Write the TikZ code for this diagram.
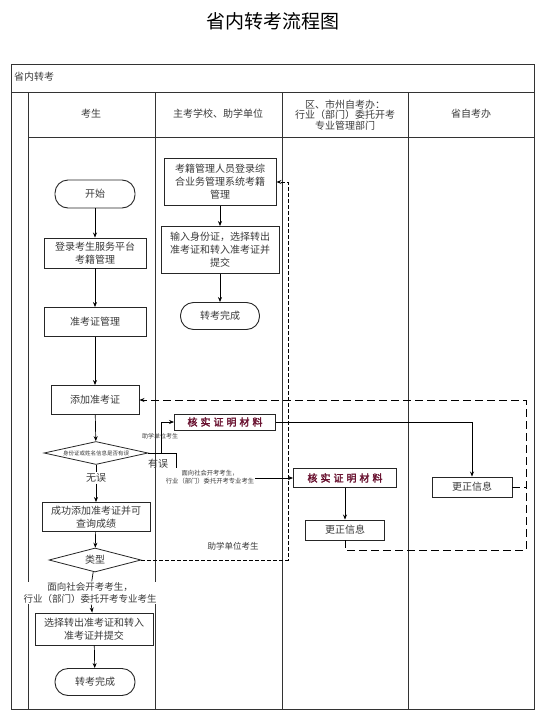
\documentclass[tikz,border=0pt]{standalone}
\usepackage{fontspec}
\setmainfont{Noto Sans CJK SC}
\newfontfamily\checkfont[LetterSpace=30,FakeBold=2.5]{Noto Sans CJK SC}
\usetikzlibrary{arrows.meta,shapes.geometric}
\definecolor{ink}{HTML}{3A3A3A}
\definecolor{plum}{HTML}{6A1331}
\tikzset{
  box/.style={draw=black!85,line width=0.9pt,fill=white,text=ink,align=center,inner sep=1pt,font=\fontsize{10}{13}\selectfont},
  term/.style={box,rounded corners=13pt},
  decide/.style={diamond,draw=black!85,line width=0.8pt,fill=white,text=ink,inner sep=0pt},
  checkbox/.style={box,text=plum,font=\checkfont\fontsize{10}{11}\selectfont},
  note/.style={text=ink,inner sep=1pt,align=center},
  flow/.style={->,line width=0.7pt},
  backflow/.style={->,line width=1pt,dash pattern=on 8pt off 4pt},
  lane/.style={line width=0.8pt,draw=black!80}
}
\begin{document}
\begin{tikzpicture}[x=1pt,y=-1pt,>={Stealth[length=5pt,width=4pt]}]
\useasboundingbox (0,0) rectangle (546,720);
% title
\node (title) at (273,21) {\fontsize{19}{19}\selectfont 省内转考流程图};
% swimlane frame
\draw[lane] (11,64) rectangle (534,709);
\draw[lane] (11,92) -- (534,92);
\draw[lane] (28,137) -- (534,137);
\foreach \x in {28,155,282,408} \draw[lane] (\x,92) -- (\x,709);
% lane headings
\node[note,anchor=west,font=\fontsize{10}{12}\selectfont] (pool) at (13,77) {省内转考};
\node[note,font=\fontsize{10}{12}\selectfont] (h1) at (91,114) {考生};
\node[note,font=\fontsize{10}{12}\selectfont] (h2) at (218,114) {主考学校、助学单位};
\node[note,font=\fontsize{10}{10.5}\selectfont] (h3) at (345,115) {区、市州自考办：\\行业（部门）委托开考\\专业管理部门};
\node[note,font=\fontsize{10}{12}\selectfont] (h4) at (471,114) {省自考办};

% candidate lane
\node[term,minimum width=80pt,minimum height=28pt] (start) at (95,194) {开始};
\node[box,minimum width=102pt,minimum height=30pt] (login) at (95,253) {登录考生服务平台\\考籍管理};
\node[box,minimum width=102pt,minimum height=29pt] (card) at (95,322) {准考证管理};
\node[box,minimum width=88pt,minimum height=29pt] (addcard) at (95,400) {添加准考证};
\node[decide,shape aspect=4.5,minimum width=104pt,minimum height=23pt,font=\fontsize{5.5}{6}\selectfont] (verify) at (96,453) {身份证或姓名信息是否有误};
\node[note,fill=white,font=\fontsize{10}{12}\selectfont] (noerr) at (96,478) {无误};
\node[box,minimum width=108pt,minimum height=29pt] (added) at (96,517) {成功添加准考证并可\\查询成绩};
\node[decide,shape aspect=4,minimum width=92pt,minimum height=24pt,font=\fontsize{10}{12}\selectfont] (kind) at (95,560) {类型};
\node[note,fill=white,font=\fontsize{9.5}{12}\selectfont] (social) at (90,593) {面向社会开考考生，\\行业（部门）委托开考专业考生};
\node[box,minimum width=118pt,minimum height=32pt] (choose) at (94,629) {选择转出准考证和转入\\准考证并提交};
\node[term,minimum width=80pt,minimum height=27pt] (finish) at (95,682) {转考完成};

% school lane
\node[box,minimum width=112pt,minimum height=47pt] (sysin) at (220,182) {考籍管理人员登录综\\合业务管理系统考籍\\管理};
\node[box,minimum width=118pt,minimum height=47pt] (idin) at (220,250) {输入身份证，选择转出\\准考证和转入准考证并\\提交};
\node[term,minimum width=79pt,minimum height=27pt] (finish2) at (220,316) {转考完成};
\node[checkbox,minimum width=101pt,minimum height=16pt] (check1) at (225,422) {核实证明材料};
\node[note,font=\fontsize{6}{7}\selectfont] (schoolnote) at (160,436) {助学单位考生};
\node[note,font=\fontsize{10}{12}\selectfont] (haserr) at (158,464) {有误};
\node[note,font=\fontsize{6.3}{7.5}\selectfont] (socialnote) at (210,477) {面向社会开考考生，\\行业（部门）委托开考专业考生};
\node[note,font=\fontsize{8.5}{10}\selectfont] (schoolnote2) at (233,546) {助学单位考生};

% city lane and province lane
\node[checkbox,minimum width=103pt,minimum height=19pt] (check2) at (345,478) {核实证明材料};
\node[box,minimum width=79pt,minimum height=20pt] (fix3) at (345,530) {更正信息};
\node[box,minimum width=80pt,minimum height=20pt] (fix4) at (472,487) {更正信息};

% main flow
\draw[flow] (start) -- (login);
\draw[flow] (login) -- (card);
\draw[flow] (card) -- (addcard);
\draw[flow] (addcard) -- (verify);
\draw[line width=0.7pt] (verify) -- (noerr);
\draw[flow] (noerr) -- (added);
\draw[flow] (added) -- (kind);
\draw[line width=0.7pt] (kind) -- (social);
\draw[flow] (social) -- (choose);
\draw[flow] (choose) -- (finish);
\draw[flow] (sysin) -- (idin);
\draw[flow] (idin) -- (finish2);
% error branches
\coordinate (fork) at (161,453);
\coordinate (drop) at (176,468);
\draw[flow] (verify.east) -- (fork) |- (check1);
\draw[line width=0.7pt] (verify.east) -| (drop);
\draw[flow] (socialnote.east |- check2) -- (check2);
\draw[flow] (check1) -| (fix4);
\draw[flow] (check2) -- (fix3);
% dashed return loop
\coordinate (loopse) at (526,550);
\coordinate (loopne) at (526,400);
\draw[backflow] (fix3) |- (loopse) -- (loopne) -- (addcard);
\draw[backflow,-] (fix4) -- (fix4 -| loopse);
% school candidates go back to school lane
\coordinate (jump) at (288,560);
\draw[backflow,dash pattern=on 4pt off 2pt] (kind) -- (jump) |- (sysin);
\end{tikzpicture}
\end{document}
